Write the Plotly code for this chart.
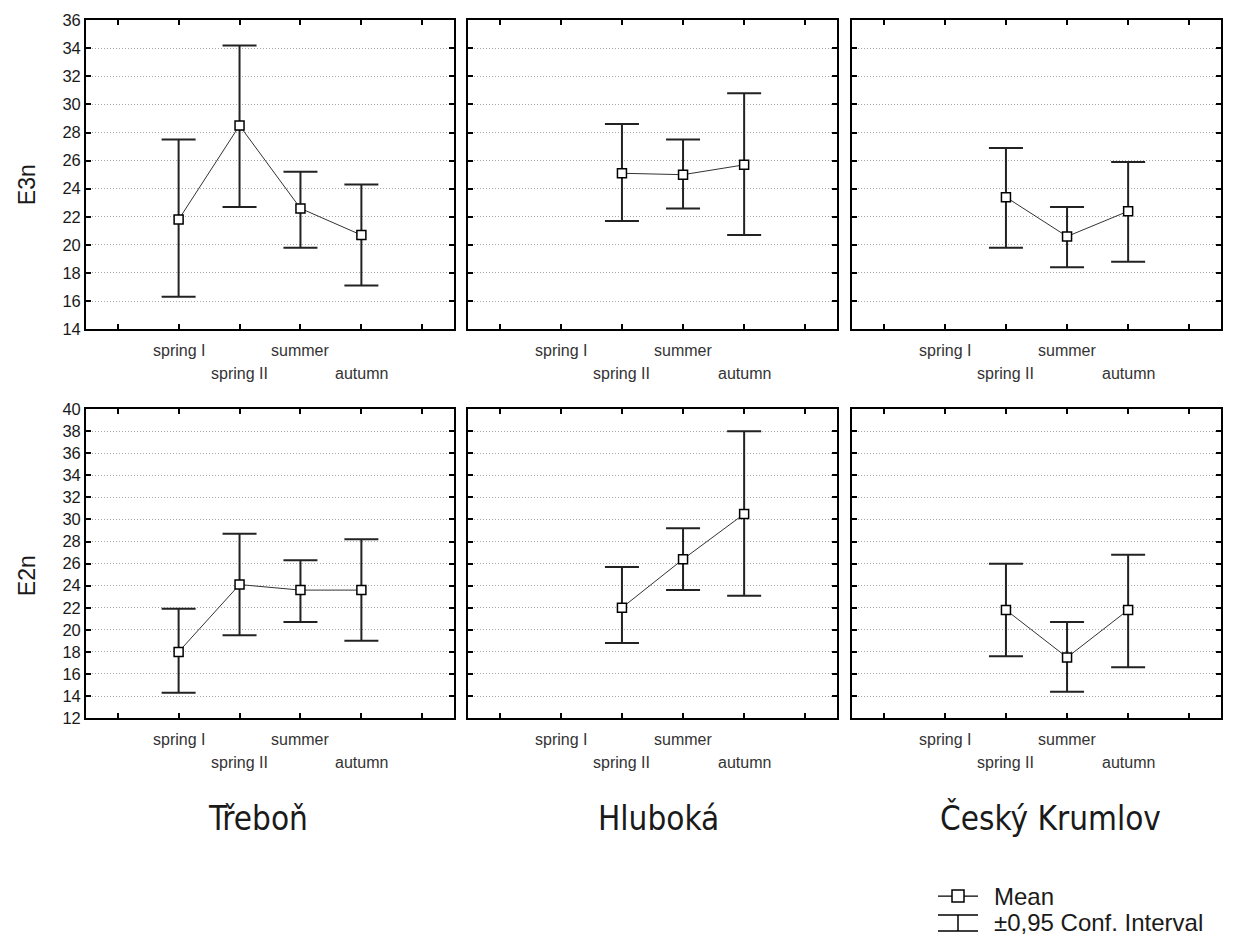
import plotly.graph_objects as go

W, H = 1240, 941
# observed vertical mapping of the rendered page: screen_y = Y_OFF + Y_SCALE * layout_y
Y_OFF, Y_SCALE = 7.8, 0.981

categories = ["spring I", "spring II", "summer", "autumn"]
category_pos = [1, 2, 3, 4]
sites = ["Třeboň", "Hluboká", "Český Krumlov"]
variables = ["E3n", "E2n"]

# E3n (top row)
e3n_trebon_mean = [21.8, 28.5, 22.6, 20.7]
e3n_trebon_low = [16.3, 22.7, 19.8, 17.1]
e3n_trebon_high = [27.5, 34.2, 25.2, 24.3]
e3n_hluboka_mean = [None, 25.1, 25.0, 25.7]
e3n_hluboka_low = [None, 21.7, 22.6, 20.7]
e3n_hluboka_high = [None, 28.6, 27.5, 30.8]
e3n_krumlov_mean = [None, 23.4, 20.6, 22.4]
e3n_krumlov_low = [None, 19.8, 18.4, 18.8]
e3n_krumlov_high = [None, 26.9, 22.7, 25.9]

# E2n (bottom row)
e2n_trebon_mean = [18.0, 24.1, 23.6, 23.6]
e2n_trebon_low = [14.3, 19.5, 20.7, 19.0]
e2n_trebon_high = [21.9, 28.7, 26.3, 28.2]
e2n_hluboka_mean = [None, 22.0, 26.4, 30.5]
e2n_hluboka_low = [None, 18.8, 23.6, 23.1]
e2n_hluboka_high = [None, 25.7, 29.2, 38.0]
e2n_krumlov_mean = [None, 21.8, 17.5, 21.8]
e2n_krumlov_low = [None, 17.6, 14.4, 16.6]
e2n_krumlov_high = [None, 26.0, 20.7, 26.8]

y_ranges = [[14, 36], [12, 40]]
x_range = [-0.52, 5.52]
x_tick_vals = [0, 1, 2, 3, 4, 5]

panels = [
    [(e3n_trebon_mean, e3n_trebon_low, e3n_trebon_high),
     (e3n_hluboka_mean, e3n_hluboka_low, e3n_hluboka_high),
     (e3n_krumlov_mean, e3n_krumlov_low, e3n_krumlov_high)],
    [(e2n_trebon_mean, e2n_trebon_low, e2n_trebon_high),
     (e2n_hluboka_mean, e2n_hluboka_low, e2n_hluboka_high),
     (e2n_krumlov_mean, e2n_krumlov_low, e2n_krumlov_high)],
]

# panel boxes in screen pixels
col_px = [(86, 454), (468, 837), (852, 1221)]
row_px = [(19, 328), (408, 717)]
label_rows_px = [(349, 372), (738, 761)]


def px_x(p):
    return p / W


def px_y(p):
    return 1 - ((p - Y_OFF) / Y_SCALE) / H


TXT = "#1a1a1a"
TICKFONT = dict(family="Liberation Sans, Arial, sans-serif", size=16.5, color=TXT)

fig = go.Figure()
layout = dict(
    width=W, height=H, autosize=False,
    margin=dict(l=0, r=0, t=0, b=0),
    paper_bgcolor="white", plot_bgcolor="white",
    showlegend=False,
)
annotations = []
shapes = []

idx = 0
for r in range(2):
    for c in range(3):
        idx += 1
        xa = "x" if idx == 1 else f"x{idx}"
        ya = "y" if idx == 1 else f"y{idx}"
        mean, low, high = panels[r][c]
        xs, ys, up, dn = [], [], [], []
        for p, m, lo, hi in zip(category_pos, mean, low, high):
            if m is None:
                continue
            xs.append(p)
            ys.append(m)
            up.append(hi - m)
            dn.append(m - lo)
        fig.add_trace(go.Scatter(
            x=xs, y=ys, xaxis=xa, yaxis=ya,
            mode="lines+markers",
            line=dict(color="#333333", width=1),
            marker=dict(symbol="square", size=9, color="white",
                        line=dict(color="black", width=1.5)),
            error_y=dict(type="data", symmetric=False, array=up, arrayminus=dn,
                         color="#222222", thickness=2, width=17),
            cliponaxis=False,
        ))
        x0, x1 = col_px[c]
        y0, y1 = row_px[r]
        layout["xaxis" if idx == 1 else f"xaxis{idx}"] = dict(
            domain=[px_x(x0), px_x(x1)], anchor=ya,
            range=x_range, tickvals=x_tick_vals, showticklabels=False,
            ticks="inside", ticklen=5, tickwidth=1.5, tickcolor="black",
            showline=True, linecolor="black", linewidth=1.8, mirror="ticks",
            showgrid=False, zeroline=False, fixedrange=True,
        )
        layout["yaxis" if idx == 1 else f"yaxis{idx}"] = dict(
            domain=[px_y(y1), px_y(y0)], anchor=xa,
            range=y_ranges[r], dtick=2, tick0=0,
            showticklabels=(c == 0), tickfont=TICKFONT,
            ticks="inside", ticklen=5, tickwidth=1.5, tickcolor="black",
            showline=True, linecolor="black", linewidth=1.8, mirror="ticks",
            showgrid=True, gridcolor="#a8a8a8", gridwidth=1, griddash="1px,2px",
            zeroline=False, fixedrange=True,
        )
        # staggered category labels
        for i, (p, name) in enumerate(zip(category_pos, categories)):
            ypx = label_rows_px[r][i % 2]
            annotations.append(dict(
                x=p, xref=xa, y=px_y(ypx), yref="paper",
                text=name, showarrow=False, xanchor="center", yanchor="middle",
                font=dict(family="Liberation Sans, Arial, sans-serif", size=16, color="#333333"),
            ))

# row titles
for r, (var, ycen) in enumerate(zip(variables, [184, 575])):
    annotations.append(dict(
        x=px_x(27), xref="paper", y=px_y(ycen), yref="paper",
        text=var, textangle=-90, showarrow=False,
        xanchor="center", yanchor="middle",
        font=dict(family="Liberation Sans, Arial, sans-serif", size=23, color=TXT),
    ))

# site titles
for site, xc in zip(sites, [258, 658, 1050]):
    annotations.append(dict(
        x=px_x(xc), xref="paper", y=px_y(817), yref="paper",
        text=site, showarrow=False, xanchor="center", yanchor="middle",
        font=dict(family="DejaVu Sans Condensed, DejaVu Sans, sans-serif", size=33, color=TXT),
    ))

# legend (decoration)
lx0, lx1, lxc = 938, 978, 958
ly_mean = 895
shapes.append(dict(type="line", xref="paper", yref="paper",
                   x0=px_x(lx0), x1=px_x(lx1), y0=px_y(ly_mean), y1=px_y(ly_mean),
                   line=dict(color="black", width=1.2)))
shapes.append(dict(type="rect", xref="paper", yref="paper",
                   x0=px_x(lxc - 6), x1=px_x(lxc + 6), y0=px_y(ly_mean + 6), y1=px_y(ly_mean - 6),
                   fillcolor="white", line=dict(color="black", width=1.5)))
ly_top, ly_bot = 914, 930
for yy in (ly_top, ly_bot):
    shapes.append(dict(type="line", xref="paper", yref="paper",
                       x0=px_x(lx0), x1=px_x(lx1), y0=px_y(yy), y1=px_y(yy),
                       line=dict(color="black", width=1.5)))
shapes.append(dict(type="line", xref="paper", yref="paper",
                   x0=px_x(lxc), x1=px_x(lxc), y0=px_y(ly_top), y1=px_y(ly_bot),
                   line=dict(color="black", width=1.5)))

legend_font = dict(family="Liberation Sans, Arial, sans-serif", size=24, color=TXT)
annotations.append(dict(x=px_x(992), xref="paper", y=px_y(895), yref="paper",
                        text="Mean", showarrow=False, xanchor="left", yanchor="middle",
                        font=legend_font))
annotations.append(dict(x=px_x(992), xref="paper", y=px_y(921.5), yref="paper",
                        text="±0,95 Conf. Interval", showarrow=False, xanchor="left",
                        yanchor="middle", font=legend_font))

layout["annotations"] = annotations
layout["shapes"] = shapes
fig.update_layout(**layout)
fig.write_html("out.html")
